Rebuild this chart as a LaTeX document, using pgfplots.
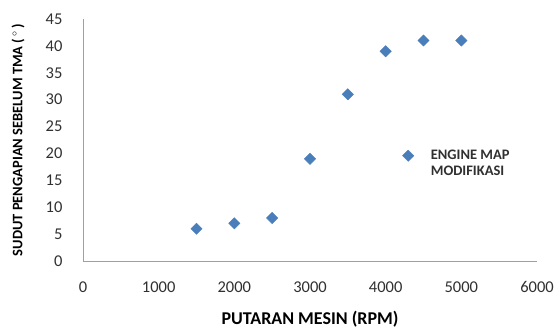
\documentclass[border=0pt]{standalone}
\usepackage{pgfplots}
\pgfplotsset{compat=1.18}
\usepackage{fontspec}
\setmainfont{Carlito}
\definecolor{mk}{HTML}{4A7EBB}
\definecolor{ax}{HTML}{A0A0A0}
\definecolor{tx}{HTML}{303030}
\begin{document}
\begin{tikzpicture}
\begin{axis}[
  scale only axis,
  width=454pt, height=242pt,
  xmin=0, xmax=6000, ymin=0, ymax=45,
  xtick={0,1000,...,6000}, ytick={0,5,...,45},
  axis x line*=bottom, axis y line*=left,
  axis line style={ax, line width=0.8pt, -},
  major tick length=0pt,
  scaled x ticks=false,
  /pgf/number format/assume math mode=true,
  /pgf/number format/set thousands separator={},
  ticklabel style={font=\fontsize{16.5}{18}\selectfont, text=tx},
  xticklabel style={yshift=-17pt},
  yticklabel style={xshift=-17pt},
  xlabel={\textbf{PUTARAN MESIN (RPM)}},
  ylabel={\textbf{SUDUT PENGAPIAN SEBELUM TMA (\,$^\circ$\,)}},
  xlabel style={font=\fontsize{18}{20}\selectfont, text=black, at={([yshift=-58pt]axis description cs:0.5,0)}, anchor=center},
  ylabel style={font=\fontsize{14.5}{16}\selectfont, text=black, at={([xshift=-65pt]axis description cs:0,0.5)}, anchor=center},
  legend style={draw=none, fill=none, at={(0.697,0.467)}, anchor=north west, inner sep=0pt,
    font=\bfseries\fontsize{14.5}{16}\selectfont, text=tx, row sep=1pt},
  legend cell align=left,
]
\addplot[only marks, mark=square*, mark size=4pt, mark options={draw=mk, fill=mk, rotate=45}]
  coordinates {(1500,6) (2000,7) (2500,8) (3000,19) (3500,31) (4000,39) (4500,41) (5000,41)};
\addlegendentry{\hspace{15pt}ENGINE MAP}
\addlegendimage{empty legend}
\addlegendentry{\hspace{15pt}MODIFIKASI}
\end{axis}
\useasboundingbox ([shift={(-83pt,-63pt)}]current axis.south west) rectangle ([shift={(476pt,261pt)}]current axis.south west);
\end{tikzpicture}
\end{document}
